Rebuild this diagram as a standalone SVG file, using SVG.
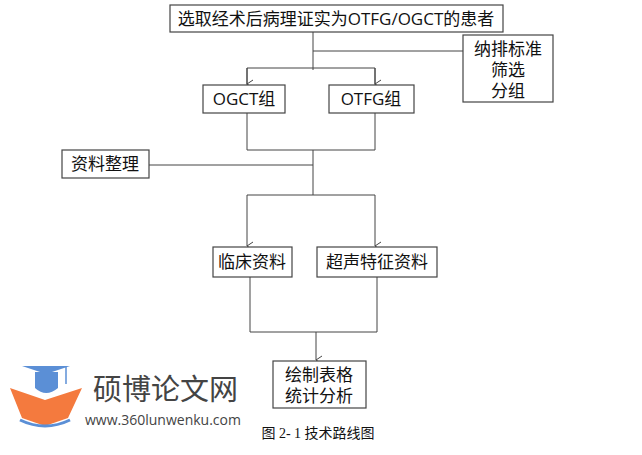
<svg xmlns="http://www.w3.org/2000/svg" width="642" height="455" viewBox="0 0 642 455">
<defs>
<marker id="a" markerWidth="10" markerHeight="10" refX="5" refY="9" orient="auto" markerUnits="userSpaceOnUse"><path d="M1,3 L5,9 L9,3" fill="none" stroke="#444" stroke-width="1"/></marker>
</defs>
<style>
.b{fill:#fff;stroke:#444;stroke-width:1.2}
.t{font-family:"Open Sans","Noto Sans CJK SC",sans-serif;font-size:17px;fill:#111;text-anchor:middle}
.c{fill:none;stroke:#444;stroke-width:1}
</style>
<rect width="642" height="455" fill="#fff"/>
<g id="connectors">
<path class="c" d="M313,32V70M313,51H463M247,85V68H375V85" />
<path class="c" d="M247,68V84" marker-end="url(#a)"/>
<path class="c" d="M375,68V84" marker-end="url(#a)"/>
<path class="c" d="M247,113V150H375V113M313,150V195M149,165H313M247,195H375"/>
<path class="c" d="M247,195V246" marker-end="url(#a)"/>
<path class="c" d="M375,195V246" marker-end="url(#a)"/>
<path class="c" d="M250,277V332H377V277M316,332V360" marker-end="url(#a)"/>
</g>
<g id="n1"><rect class="b" x="170" y="5" width="333" height="27"/><text class="t" x="336" y="25">选取经术后病理证实为OTFG/OGCT的患者</text></g>
<g id="n2"><rect class="b" x="463" y="35" width="90" height="67"/><text class="t" x="508" y="55">纳排标准</text><text class="t" x="508" y="76">筛选</text><text class="t" x="508" y="97">分组</text></g>
<g id="n3"><rect class="b" x="203" y="85" width="82" height="28"/><text class="t" x="244" y="105">OGCT组</text></g>
<g id="n4"><rect class="b" x="329" y="85" width="85" height="28"/><text class="t" x="371" y="105">OTFG组</text></g>
<g id="n5"><rect class="b" x="62" y="150" width="87" height="28"/><text class="t" x="105" y="170">资料整理</text></g>
<g id="n6"><rect class="b" x="213" y="247" width="79" height="30"/><text class="t" x="252" y="268">临床资料</text></g>
<g id="n7"><rect class="b" x="317" y="247" width="120" height="30"/><text class="t" x="377" y="268">超声特征资料</text></g>
<g id="n8"><rect class="b" x="273" y="361" width="93" height="47"/><text class="t" x="319" y="381">绘制表格</text><text class="t" x="319" y="402">统计分析</text></g>
<g id="logo">
<path d="M10,388 L45,400 L82,388 L68,418 L45,426 L22,418 Z" fill="#f47a3e"/>
<path d="M20,420 Q45,432 70,420" fill="none" stroke="#5b8fd6" stroke-width="3"/>
<path d="M22,366 H70 L46,374 Z" fill="#5b8fd6"/>
<path d="M35,372 H58 V388 Q46,398 35,388 Z" fill="#5b8fd6"/>
<line x1="66" y1="367" x2="66" y2="384" stroke="#5b8fd6" stroke-width="1.5"/>
<text x="93" y="400" font-family="'Noto Sans CJK SC',sans-serif" font-size="29" fill="#444">硕博论文网</text>
<text x="85" y="425" font-family="'Open Sans',sans-serif" font-size="14" fill="#444">www.360lunwenku.com</text>
</g>
<text x="318" y="438" font-family="'Liberation Serif','Noto Sans CJK SC',serif" font-size="14" fill="#111" text-anchor="middle">图 2- 1  技术路线图</text>
</svg>
